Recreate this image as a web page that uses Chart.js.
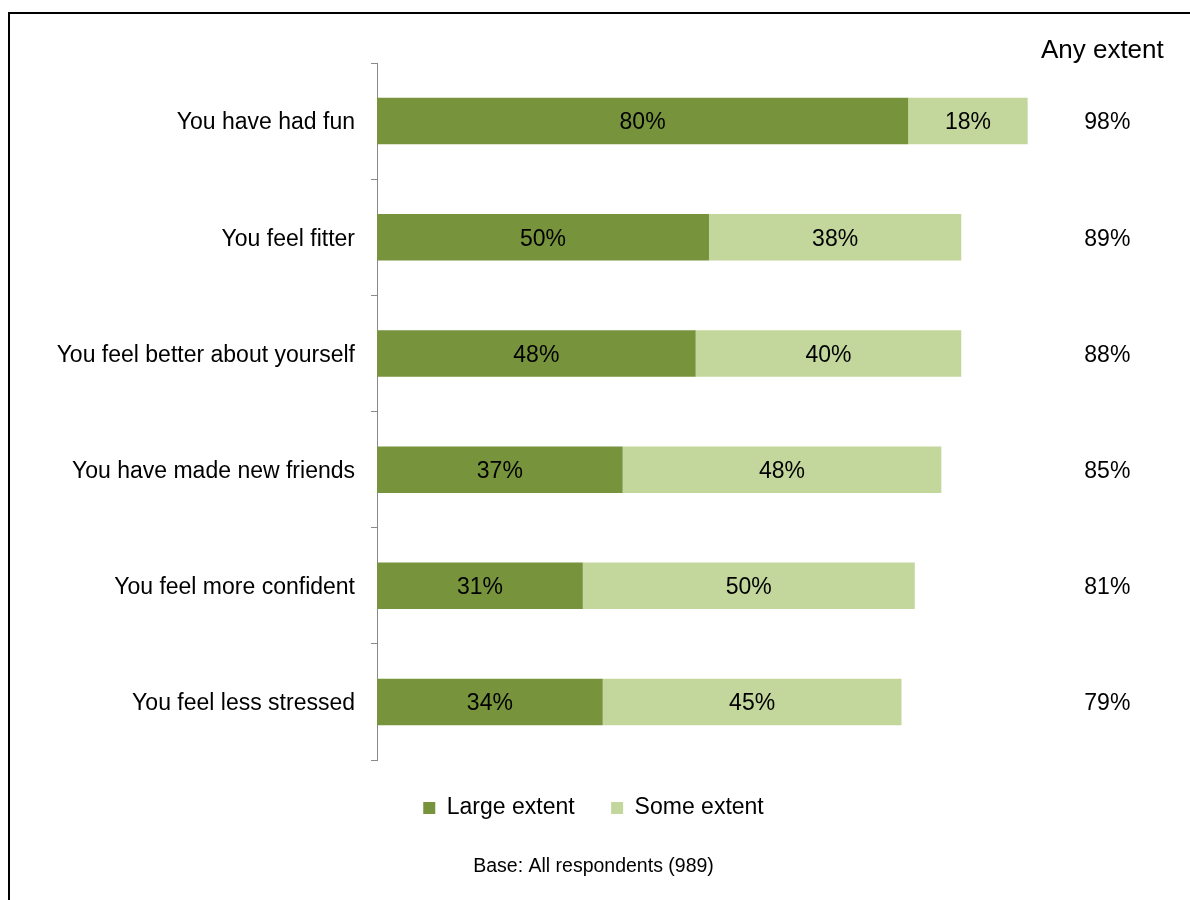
<!DOCTYPE html>
<html>
<head>
<meta charset="utf-8">
<script src="https://cdn.jsdelivr.net/npm/chart.js@4/dist/chart.umd.min.js"></script>
<style>
	html, body { margin: 0; padding: 0; background: #fff; overflow: hidden; }
	#wrap { position: relative; width: 1190px; height: 900px; }
	#frame { position: absolute; left: 8px; top: 12px; right: -10px; bottom: -10px;
		border-top: 2px solid #000; border-left: 2px solid #000; pointer-events: none; }
</style>
</head>
<body>
<div id="wrap">
	<canvas id="outcomes" width="1190" height="900"></canvas>
	<div id="frame"></div>
</div>
<script>
//
// Outcomes chart
//

var categories = [
	'You have had fun',
	'You feel fitter',
	'You feel better about yourself',
	'You have made new friends',
	'You feel more confident',
	'You feel less stressed'
];
var largeExtent = [80, 50, 48, 37, 31, 34];
var someExtent = [18, 38, 40, 48, 50, 45];
var anyExtent = [98, 89, 88, 85, 81, 79];

var FONT = '"Liberation Sans", Arial, sans-serif';

// Percent labels inside the bars and the "Any extent" column on the right
var labelsPlugin = {
	id: 'barLabels',
	afterDatasetsDraw: function(chart) {
		var ctx = chart.ctx;
		var area = chart.chartArea;
		var xScale = chart.scales.x;
		var yScale = chart.scales.y;

		ctx.save();
		ctx.fillStyle = '#000';
		ctx.textAlign = 'center';
		ctx.textBaseline = 'middle';
		ctx.font = '23px ' + FONT;

		chart.data.datasets.forEach(function(ds, di) {
			chart.getDatasetMeta(di).data.forEach(function(bar, i) {
				var p = bar.getCenterPoint();
				ctx.fillText(ds.data[i] + '%', p.x, p.y + 2);
			});
		});

		// totals column sits past the end of the bars
		var colX = xScale.getPixelForValue(110);
		anyExtent.forEach(function(v, i) {
			ctx.fillText(v + '%', colX, yScale.getPixelForValue(i) + 2);
		});

		ctx.font = '26px ' + FONT;
		ctx.fillText('Any extent', colX - 5, area.top - 12);
		ctx.restore();
	}
};

new Chart(document.getElementById('outcomes'), {
	type: 'bar',
	data: {
		labels: categories,
		datasets: [{
			label: 'Large extent',
			data: largeExtent,
			backgroundColor: '#77933C'
		}, {
			label: 'Some extent',
			data: someExtent,
			backgroundColor: '#C3D69B'
		}]
	},
	options: {
		indexAxis: 'y',
		responsive: false,
		animation: false,
		barPercentage: 0.4,
		categoryPercentage: 1,
		layout: {
			padding: { top: 63, right: 3, bottom: 22, left: 0 }
		},
		scales: {
			x: {
				stacked: true,
				display: false,
				min: 0,
				max: 122
			},
			y: {
				stacked: true,
				afterFit: function(scale) { scale.width = 377; },
				border: { display: true, color: '#898989', width: 1 },
				grid: {
					drawOnChartArea: false,
					drawTicks: true,
					tickLength: 6,
					color: '#898989'
				},
				ticks: {
					padding: 16,
					labelOffset: 2,
					color: '#000',
					font: { family: FONT, size: 23 }
				}
			}
		},
		plugins: {
			legend: {
				position: 'bottom',
				labels: {
					boxWidth: 12,
					boxHeight: 12,
					padding: 36.5,
					color: '#000',
					font: { family: FONT, size: 23 }
				}
			},
			title: {
				display: true,
				position: 'bottom',
				text: 'Base: All respondents (989)',
				color: '#000',
				font: { family: FONT, size: 19.5, weight: 'normal' },
				padding: { top: 25, bottom: 0 }
			},
			tooltip: { enabled: false }
		}
	},
	plugins: [labelsPlugin]
});
</script>
</body>
</html>
